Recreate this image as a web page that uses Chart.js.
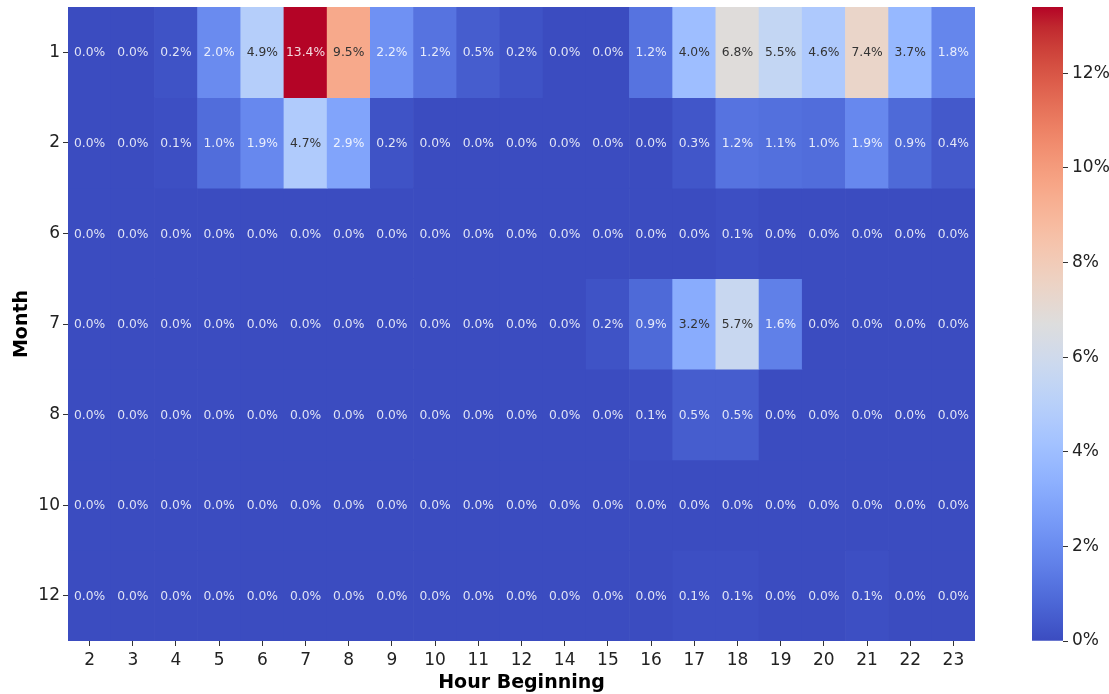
<!DOCTYPE html>
<html>
<head>
<meta charset="utf-8">
<script src="https://cdn.jsdelivr.net/npm/chart.js@4.4.1/dist/chart.umd.min.js"></script>
<style>
  body { margin:0; background:#fff; }
  canvas { position:absolute; top:0; }
</style>
</head>
<body>
<canvas id="heat" width="1109" height="694" style="left:0"></canvas>
<canvas id="cbar" width="77" height="694" style="left:1032px"></canvas>
<script>
// categories
var months = ['1','2','6','7','8','10','12'];
var hours = ['2','3','4','5','6','7','8','9','10','11','12','14','15','16','17','18','19','20','21','22','23'];

// share of events (%) per month, one value per hour column
var month1  = [0.0,0.0,0.2,2.0,4.9,13.4,9.5,2.2,1.2,0.5,0.2,0.0,0.0,1.2,4.0,6.8,5.5,4.6,7.4,3.7,1.8];
var month2  = [0.0,0.0,0.1,1.0,1.9,4.7,2.9,0.2,0.0,0.0,0.0,0.0,0.0,0.0,0.3,1.2,1.1,1.0,1.9,0.9,0.4];
var month6  = [0.0,0.0,0.0,0.0,0.0,0.0,0.0,0.0,0.0,0.0,0.0,0.0,0.0,0.0,0.0,0.1,0.0,0.0,0.0,0.0,0.0];
var month7  = [0.0,0.0,0.0,0.0,0.0,0.0,0.0,0.0,0.0,0.0,0.0,0.0,0.2,0.9,3.2,5.7,1.6,0.0,0.0,0.0,0.0];
var month8  = [0.0,0.0,0.0,0.0,0.0,0.0,0.0,0.0,0.0,0.0,0.0,0.0,0.0,0.1,0.5,0.5,0.0,0.0,0.0,0.0,0.0];
var month10 = [0.0,0.0,0.0,0.0,0.0,0.0,0.0,0.0,0.0,0.0,0.0,0.0,0.0,0.0,0.0,0.0,0.0,0.0,0.0,0.0,0.0];
var month12 = [0.0,0.0,0.0,0.0,0.0,0.0,0.0,0.0,0.0,0.0,0.0,0.0,0.0,0.0,0.1,0.1,0.0,0.0,0.1,0.0,0.0];
var rows = [month1, month2, month6, month7, month8, month10, month12];

// colour scale
var vmax = 13.4;
var cbarTicks = [0,2,4,6,8,10,12];

//coolwarm colormap, 33 samples
var cw = [[59,76,192],[68,90,204],[77,104,215],[87,117,225],[98,130,234],[108,142,241],[119,154,247],[130,165,251],
  [141,176,254],[152,185,255],[163,194,255],[174,201,253],[184,208,249],[194,213,244],[204,217,238],[213,219,230],
  [221,221,221],[229,216,209],[236,211,197],[241,204,185],[245,196,173],[247,187,160],[247,177,148],[247,166,135],
  [244,154,123],[241,141,111],[236,127,99],[229,112,88],[222,96,77],[213,80,66],[203,62,56],[192,40,47],[180,4,38]];

function cwRGB(t){
  t = Math.max(0, Math.min(1, t));
  var p = t*32, i = Math.min(31, Math.floor(p)), f = p - i;
  var a = cw[i], b = cw[i+1];
  return [0,1,2].map(function(k){ return a[k] + (b[k]-a[k])*f; });
}
function cwColor(t){
  var c = cwRGB(t);
  return 'rgb('+Math.round(c[0])+','+Math.round(c[1])+','+Math.round(c[2])+')';
}
//pick white or dark text like seaborn does
function textColor(t){
  var c = cwRGB(t).map(function(v){
    v = v/255;
    return v <= 0.03928 ? v/12.92 : Math.pow((v+0.055)/1.055, 2.4);
  });
  var lum = 0.2126*c[0] + 0.7152*c[1] + 0.0722*c[2];
  return lum > 0.408 ? '#333333' : 'rgba(255,255,255,0.85)';
}

var FONT = "'DejaVu Sans', sans-serif";

//Write the percentage in the middle of every cell
var cellLabels = {
  id: 'cellLabels',
  afterDatasetsDraw: function(chart){
    var ctx = chart.ctx;
    ctx.save();
    ctx.font = '12.3px ' + FONT;
    ctx.textAlign = 'center';
    ctx.textBaseline = 'middle';
    chart.data.datasets.forEach(function(ds, di){
      chart.getDatasetMeta(di).data.forEach(function(el, j){
        var v = ds.pct[j];
        ctx.fillStyle = textColor(v/vmax);
        ctx.fillText(v.toFixed(1)+'%', el.x, (el.y+el.base)/2 + 1);
      });
    });
    ctx.restore();
  }
};

var axisGrid = { drawOnChartArea:false, drawTicks:true, tickLength:5, color:'#333', offset:false };

new Chart(document.getElementById('heat'), {
  type: 'bar',
  data: {
    labels: hours,
    datasets: rows.map(function(vals, i){
      return {
        data: vals.map(function(){ return [i, i+1]; }),
        pct: vals,
        backgroundColor: vals.map(function(v){ return cwColor(v/vmax); }),
        borderWidth: 0,
        categoryPercentage: 1,
        barPercentage: 1,
        grouped: false
      };
    })
  },
  options: {
    responsive: false,
    animation: false,
    layout: { padding: { top:7, right:134, left:8, bottom:0 } },
    plugins: { legend:{display:false}, tooltip:{enabled:false} },
    scales: {
      x: {
        type: 'category',
        offset: true,
        grid: axisGrid,
        border: { display:false },
        ticks: { color:'#222', font:{ size:17, family:FONT }, padding:4, maxRotation:0, autoSkip:false },
        title: { display:true, text:'Hour Beginning', color:'#000', font:{ size:19, weight:'bold', family:FONT }, padding:{top:0,bottom:0} },
        afterFit: function(s){ s.height = 53; s.paddingLeft = 0; s.paddingRight = 0; }
      },
      y: {
        type: 'linear',
        reverse: true,
        min: 0, max: 7,
        afterBuildTicks: function(s){ s.ticks = months.map(function(m,i){ return {value:i+0.5}; }); },
        grid: axisGrid,
        border: { display:false },
        ticks: { color:'#222', font:{ size:17, family:FONT }, padding:3, callback:function(v,i){ return months[i]; } },
        title: { display:true, text:'Month', color:'#000', font:{ size:19, weight:'bold', family:FONT }, padding:{top:3,bottom:0} },
        afterFit: function(s){ s.width = 60; s.paddingTop = 0; s.paddingBottom = 0; }
      }
    }
  },
  plugins: [cellLabels]
});

//colour bar
new Chart(document.getElementById('cbar'), {
  type: 'bar',
  data: {
    labels: [''],
    datasets: [{
      data: [[0, vmax]],
      backgroundColor: function(c){
        var a = c.chart.chartArea;
        if(!a) return cwColor(0.5);
        var g = c.chart.ctx.createLinearGradient(0, a.bottom, 0, a.top);
        cw.forEach(function(col, k){ g.addColorStop(k/32, 'rgb('+col.join(',')+')'); });
        return g;
      },
      categoryPercentage: 1,
      barPercentage: 1
    }]
  },
  options: {
    responsive: false,
    animation: false,
    layout: { padding: { top:7, bottom:53, left:0, right:0 } },
    plugins: { legend:{display:false}, tooltip:{enabled:false} },
    scales: {
      x: { display:false },
      y: {
        position: 'right',
        min: 0, max: vmax,
        afterBuildTicks: function(s){ s.ticks = cbarTicks.map(function(v){ return {value:v}; }); },
        grid: { drawOnChartArea:false, drawTicks:true, tickLength:5, color:'#333' },
        border: { display:false },
        ticks: { color:'#222', font:{ size:17, family:FONT }, padding:4, callback:function(v){ return v+'%'; } },
        afterFit: function(s){ s.width = 46; s.paddingTop = 0; s.paddingBottom = 0; }
      }
    }
  }
});
</script>
</body>
</html>
